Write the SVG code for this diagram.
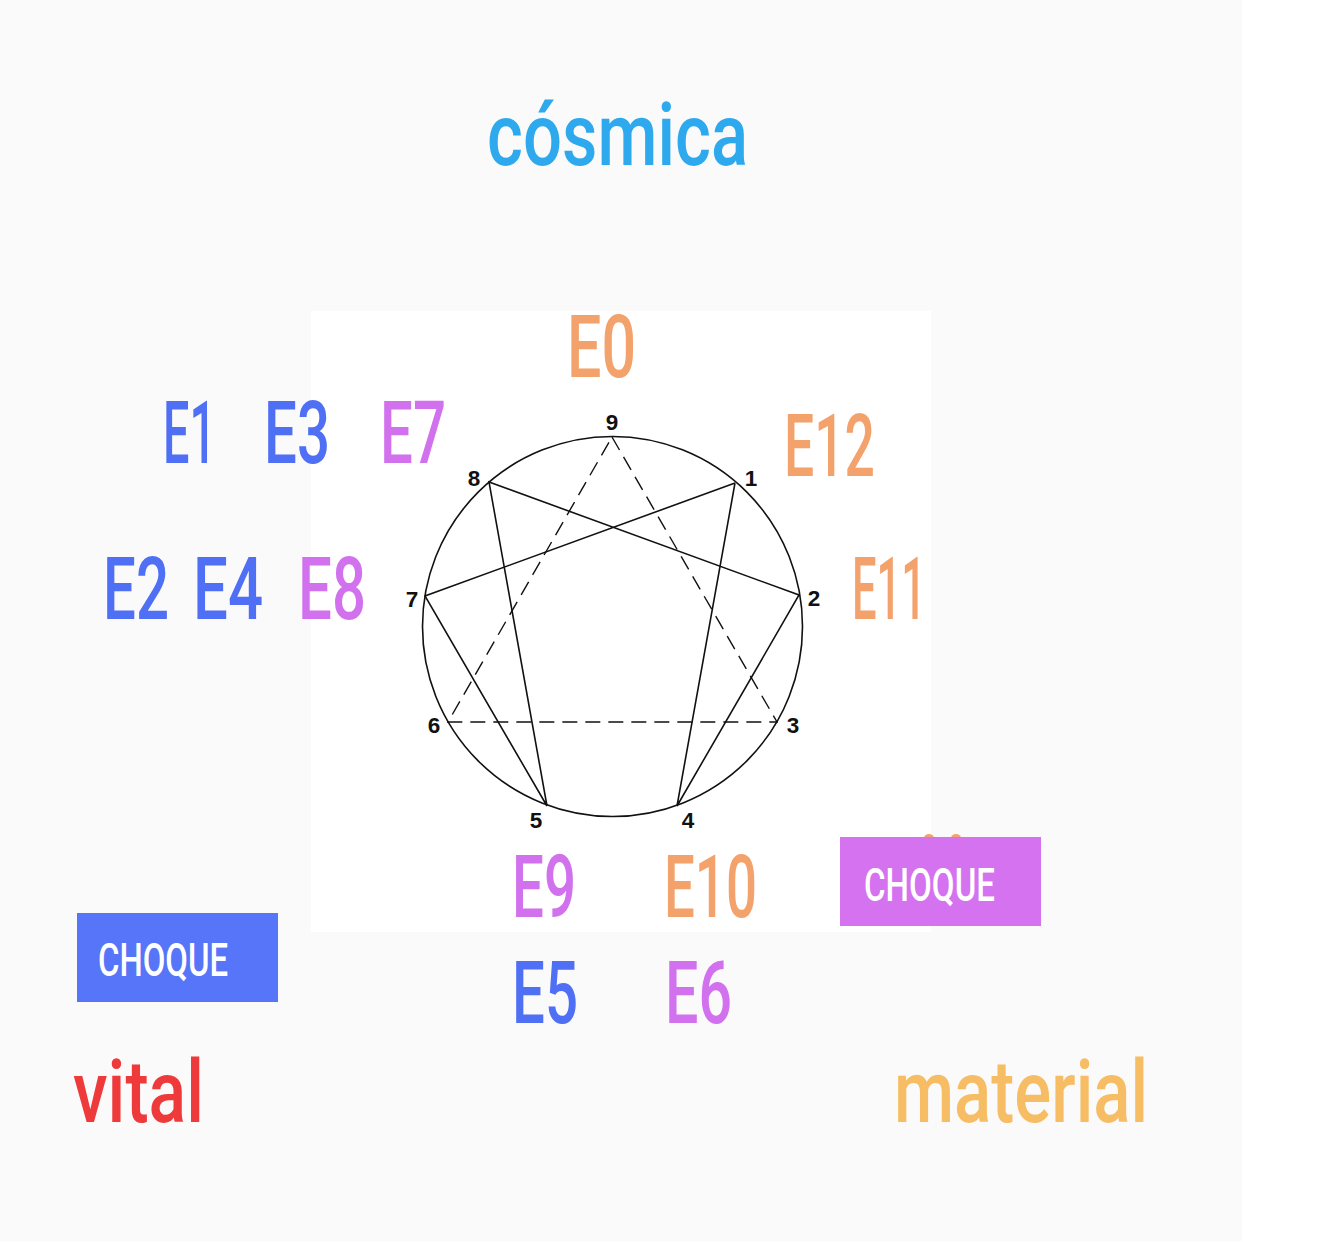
<svg xmlns="http://www.w3.org/2000/svg" width="1336" height="1242" viewBox="0 0 1336 1242">
<style>
.lbl{font-family:Roboto,"DejaVu Sans",sans-serif;font-weight:500;font-size:87px}
.b{fill:#4f6ff5}.p{fill:#d271ee}.o{fill:#f4a26c}
.num{font-family:"Liberation Sans",Arial,sans-serif;font-weight:bold;font-size:22.5px;fill:#111;text-anchor:middle}
.box{font-family:Roboto,"DejaVu Sans",sans-serif;font-weight:500;font-size:46px;fill:#fff}
.ln{stroke:#111;stroke-width:1.6;fill:none}
.dl{stroke:#111;stroke-width:1.4;fill:none;stroke-dasharray:15 8}
</style>
<rect x="0" y="0" width="1336" height="1242" fill="#ffffff"/>
<rect x="0" y="0" width="1242" height="1241" fill="#fafafa"/>
<rect x="311" y="311" width="620" height="621" fill="#ffffff"/>

<g id="title-cosmica"><text class="lbl" x="487" y="165" textLength="261" lengthAdjust="spacingAndGlyphs" fill="#2ea9ee">cósmica</text></g>

<g id="enneagram">
<circle class="ln" cx="612.5" cy="626.5" r="190"/>
</g>

<g id="connectors">
<polyline class="ln" points="735,483 677,806 799,595 489,482 547,806 425,596 735,483"/>
<polygon class="dl" points="612,437 777,722 448,722"/>
</g>

<g id="points">
<text class="num" x="612" y="430">9</text>
<text class="num" x="751" y="486">1</text>
<text class="num" x="814" y="606">2</text>
<text class="num" x="793" y="733">3</text>
<text class="num" x="688" y="828">4</text>
<text class="num" x="536" y="828">5</text>
<text class="num" x="434" y="733">6</text>
<text class="num" x="412" y="607">7</text>
<text class="num" x="474" y="486">8</text>
</g>

<g id="label-E0"><text class="lbl o" x="567" y="377" textLength="69" lengthAdjust="spacingAndGlyphs">E0</text></g>
<g id="label-E12"><text class="lbl o" x="784" y="476" textLength="91" lengthAdjust="spacingAndGlyphs">E12</text></g>
<g id="label-E11"><text class="lbl o" x="852" y="619" textLength="74" lengthAdjust="spacingAndGlyphs">E11</text></g>
<g id="label-E1"><text class="lbl b" x="163" y="463" textLength="53" lengthAdjust="spacingAndGlyphs">E1</text></g>
<g id="label-E3"><text class="lbl b" x="264" y="463" textLength="66" lengthAdjust="spacingAndGlyphs">E3</text></g>
<g id="label-E7"><text class="lbl p" x="380" y="463" textLength="66" lengthAdjust="spacingAndGlyphs">E7</text></g>
<g id="label-E2"><text class="lbl b" x="103" y="619" textLength="66" lengthAdjust="spacingAndGlyphs">E2</text></g>
<g id="label-E4"><text class="lbl b" x="193" y="619" textLength="70" lengthAdjust="spacingAndGlyphs">E4</text></g>
<g id="label-E8"><text class="lbl p" x="298" y="619" textLength="68" lengthAdjust="spacingAndGlyphs">E8</text></g>
<g id="label-E9"><text class="lbl p" x="512" y="917" textLength="64" lengthAdjust="spacingAndGlyphs">E9</text></g>
<g id="label-E10"><text class="lbl o" x="664" y="917" textLength="93" lengthAdjust="spacingAndGlyphs">E10</text></g>
<g id="label-E5"><text class="lbl b" x="512" y="1023" textLength="66" lengthAdjust="spacingAndGlyphs">E5</text></g>
<g id="label-E6"><text class="lbl p" x="665" y="1023" textLength="67" lengthAdjust="spacingAndGlyphs">E6</text></g>

<g id="choque-purple">
<ellipse cx="929" cy="838" rx="5" ry="4" fill="#f4a26c"/>
<ellipse cx="956" cy="838" rx="5" ry="4" fill="#f4a26c"/>
<rect x="840" y="837" width="201" height="89" fill="#d472ef"/>
<text class="box" x="864" y="901" textLength="131" lengthAdjust="spacingAndGlyphs">CHOQUE</text>
</g>
<g id="choque-blue">
<rect x="77" y="913" width="201" height="89" fill="#5675f8"/>
<text class="box" x="98" y="976" textLength="130" lengthAdjust="spacingAndGlyphs">CHOQUE</text>
</g>

<g id="title-vital"><text class="lbl" x="73" y="1122" textLength="131" lengthAdjust="spacingAndGlyphs" fill="#ef3a3c">vital</text></g>
<g id="title-material"><text class="lbl" x="894" y="1122" textLength="254" lengthAdjust="spacingAndGlyphs" fill="#f6bd64">material</text></g>
</svg>
